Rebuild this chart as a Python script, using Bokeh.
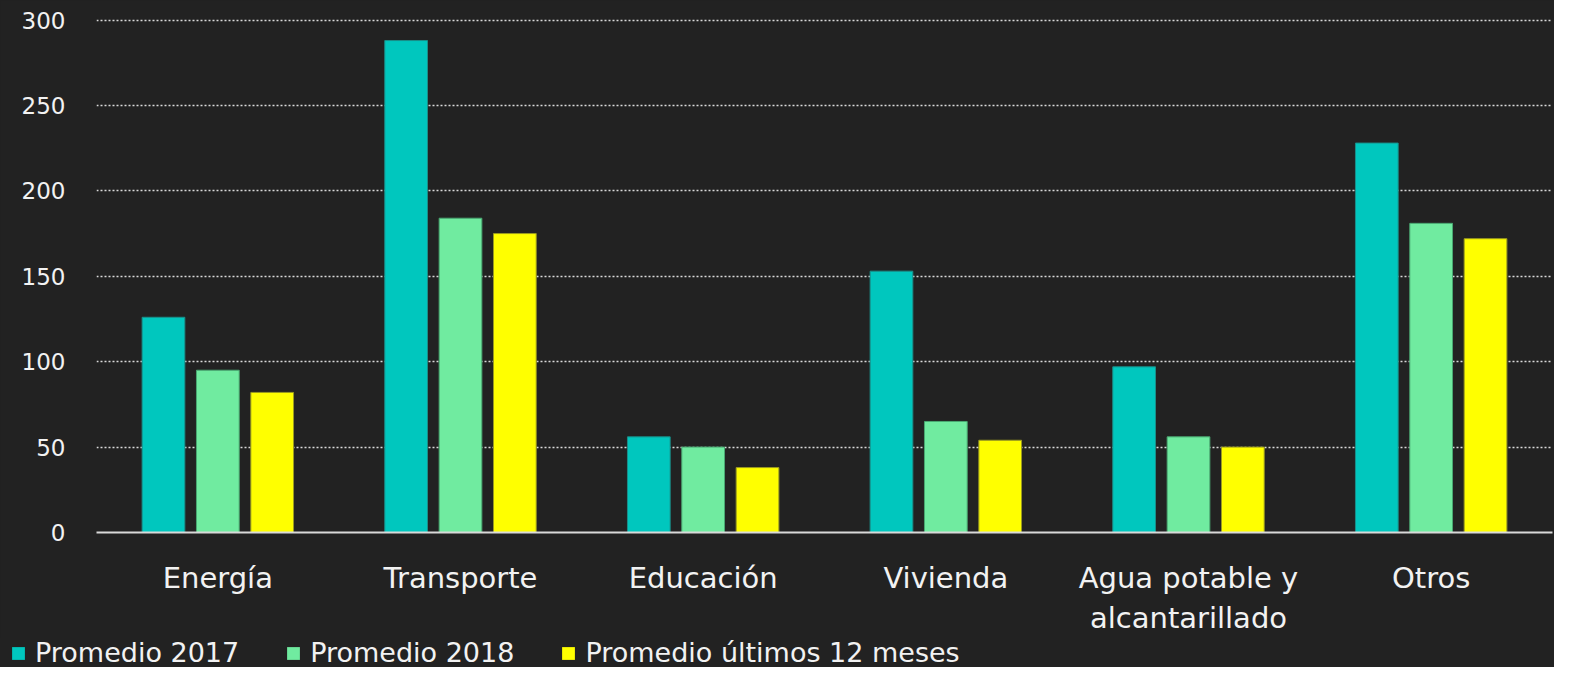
from bokeh.plotting import figure
from bokeh.models import ColumnDataSource, Range1d, FactorRange, Legend, LegendItem
from bokeh.layouts import column
from bokeh.transform import dodge
from bokeh.embed import file_html
from bokeh.resources import INLINE

categories = ["Energía", "Transporte", "Educación", "Vivienda", "Agua potable y\nalcantarillado", "Otros"]
prom_2017 = [126, 288, 56, 153, 97, 228]
prom_2018 = [95, 184, 50, 65, 56, 181]
prom_12m = [82, 175, 38, 54, 50, 172]
series_names = ["Promedio 2017", "Promedio 2018", "Promedio últimos 12 meses"]
y_ticks = [0, 50, 100, 150, 200, 250, 300]

colors = ["#00C7BE", "#70EBA0", "#FFFF00"]
outlines = ["#1a8f89", "#4aa872", "#9a9a20"]
BG = "#222222"
FONT = "DejaVu Sans"
keys = ["s0", "s1", "s2"]

src = ColumnDataSource(dict(cat=categories, s0=prom_2017, s1=prom_2018, s2=prom_12m))

p = figure(frame_width=1456, frame_height=515, x_range=FactorRange(*categories), y_range=Range1d(0, 301.5),
           output_backend="svg", toolbar_location=None,
           background_fill_color=BG, background_fill_alpha=0, border_fill_color=BG, outline_line_color=None,
           min_border_left=96, min_border_right=2, min_border_top=17, min_border_bottom=96)
p.x_range.range_padding = 0

offsets = [-0.224, 0.0, 0.224]
for i, key in enumerate(keys):
    p.vbar(x=dodge("cat", offsets[i], range=p.x_range), top=key, width=0.176, source=src,
           fill_color=colors[i], line_color=outlines[i], line_width=1)

p.xgrid.grid_line_color = None
p.ygrid.grid_line_color = "#d9d9d9"
p.ygrid.grid_line_dash = "2 2"
p.ygrid.grid_line_width = 1.5
p.yaxis.ticker = y_ticks

p.yaxis.axis_line_color = None
p.yaxis.major_tick_line_color = None
p.yaxis.minor_tick_line_color = None
p.yaxis.major_label_text_color = "#f2f2f2"
p.yaxis.major_label_text_font = FONT
p.yaxis.major_label_text_font_size = "23px"
p.yaxis.major_label_standoff = 25

p.xaxis.axis_line_color = "#d9d9d9"
p.xaxis.axis_line_width = 2
p.xaxis.major_tick_line_color = None
p.xaxis.minor_tick_line_color = None
p.xaxis.major_label_text_color = "#f2f2f2"
p.xaxis.major_label_text_font = FONT
p.xaxis.major_label_text_font_size = "29px"
p.xaxis.major_label_standoff = 22

# legend strip
lf = figure(width=1554, height=29, x_range=FactorRange(*categories), y_range=Range1d(1000, 1001),
            output_backend="svg", toolbar_location=None,
            x_axis_location=None, y_axis_location=None,
            background_fill_color=BG, background_fill_alpha=0, border_fill_color=BG, outline_line_color=None,
            min_border_left=0, min_border_right=0, min_border_top=0, min_border_bottom=0)
lf.grid.visible = False
lrs = []
for i, key in enumerate(keys):
    lrs.append(lf.vbar(x="cat", top=key, width=0.1, source=src,
                       fill_color=colors[i], line_color=None))

legend = Legend(items=[LegendItem(label=series_names[i], renderers=[lrs[i]]) for i in range(3)],
                orientation="horizontal", location=(10, -1),
                background_fill_alpha=0, border_line_color=None,
                label_text_color="#f2f2f2", label_text_font=FONT, label_text_font_size="27px",
                glyph_width=16, glyph_height=16, label_standoff=9, spacing=46,
                padding=0, margin=0)
lf.add_layout(legend, "center")

layout = column(p, column(lf, spacing=0), spacing=0, styles={"background-color": BG})
open("out.html", "w").write(file_html(layout, INLINE))
